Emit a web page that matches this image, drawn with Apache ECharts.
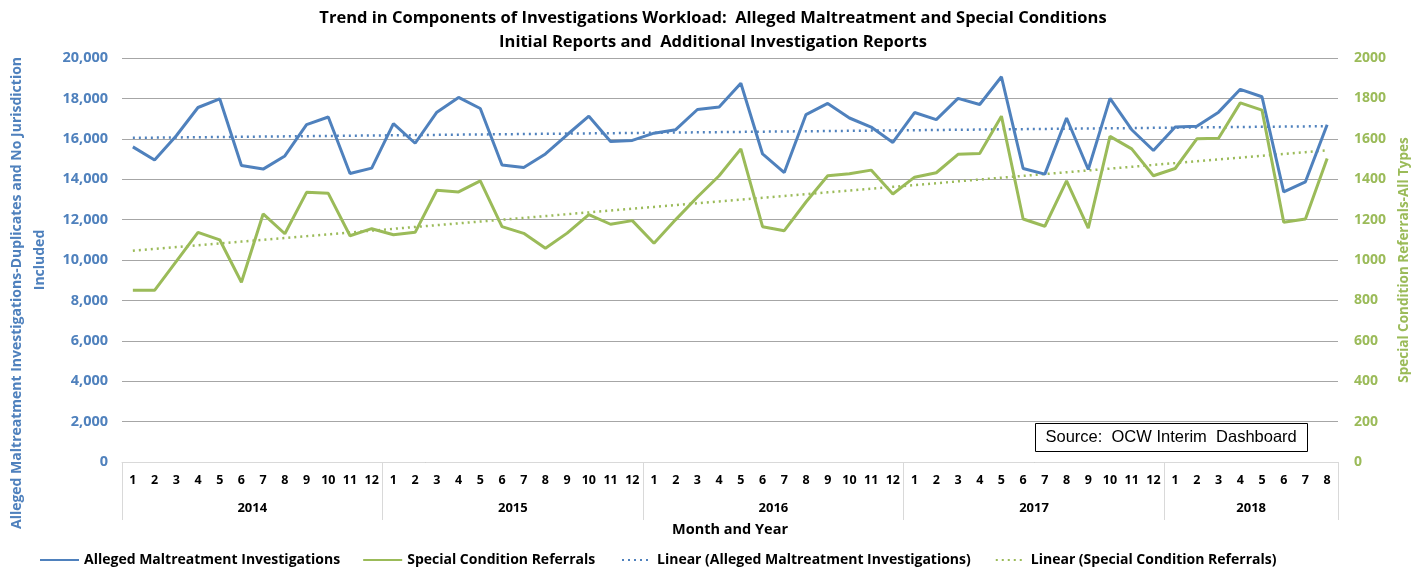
<!DOCTYPE html>
<html>
<head>
<meta charset="utf-8">
<script src="https://cdn.jsdelivr.net/npm/echarts@6/dist/echarts.min.js"></script>
<style>
  html, body { margin: 0; padding: 0; background: #fff; }
  #chart { width: 1426px; height: 573px; }
</style>
</head>
<body>
<div id="chart"></div>
<script>
  // months 2014-01 .. 2018-08
  var years = ['2014', '2015', '2016', '2017', '2018'];
  var monthsPerYear = [12, 12, 12, 12, 8];

  var allegedMaltreatment = [
    15600, 14950, 16150, 17550, 17980, 14680, 14500, 15150, 16700, 17080, 14280, 14550,
    16750, 15780, 17320, 18050, 17500, 14700, 14580, 15250, 16200, 17120, 15870, 15920,
    16280, 16450, 17450, 17570, 18750, 15250, 14330, 17200, 17750, 17030, 16580, 15820,
    17300, 16950, 18000, 17700, 19070, 14530, 14250, 17030, 14480, 18000, 16450, 15420,
    16580, 16620, 17320, 18450, 18080, 13370, 13870, 16700
  ];
  var specialCondition = [
    850, 850, 993, 1137, 1100, 890, 1228, 1130, 1335, 1330, 1120, 1155,
    1125, 1137, 1345, 1337, 1392, 1165, 1132, 1058, 1133, 1225, 1177, 1195,
    1083, 1200, 1312, 1417, 1550, 1165, 1145, 1287, 1417, 1427, 1445, 1327,
    1410, 1432, 1523, 1527, 1712, 1203, 1167, 1392, 1158, 1612, 1550, 1417,
    1453, 1600, 1603, 1778, 1742, 1187, 1203, 1503
  ];

  var blue = '#4f81bd', green = '#9bbb59';
  var font = '"Open Sans", sans-serif';

  var monthLabels = [];
  var yearStarts = [0], yearMids = [];
  years.forEach(function (y, i) {
    for (var m = 1; m <= monthsPerYear[i]; m++) monthLabels.push(String(m));
    var s = yearStarts[i];
    yearMids.push(s + monthsPerYear[i] / 2);
    yearStarts.push(s + monthsPerYear[i]);
  });

  // least squares trend line, like Excel "Linear" trendline
  function linearTrend(arr) {
    var n = arr.length, sx = 0, sy = 0, sxy = 0, sxx = 0;
    for (var i = 0; i < n; i++) {
      var x = i + 1;
      sx += x; sy += arr[i]; sxy += x * arr[i]; sxx += x * x;
    }
    var b = (n * sxy - sx * sy) / (n * sxx - sx * sx);
    var a = (sy - b * sx) / n;
    return arr.map(function (v, i) { return +(a + b * (i + 1)).toFixed(1); });
  }

  var legendText = { fontFamily: font, fontSize: 14, fontWeight: 'bold', color: '#000' };
  var leftName = { fontFamily: font, fontSize: 14, fontWeight: 'bold', color: blue, lineHeight: 23 };

  var chart = echarts.init(document.getElementById('chart'));
  chart.setOption({
    animation: false,
    textStyle: { fontFamily: font },
    title: {
      text: 'Trend in Components of Investigations Workload:  Alleged Maltreatment and Special Conditions\nInitial Reports and  Additional Investigation Reports',
      left: 'center',
      top: 1,
      padding: [5, 31, 5, 5],
      textStyle: { fontFamily: font, fontSize: 16.5, fontWeight: 'bold', color: '#000', lineHeight: 24 }
    },
    grid: { left: 122, right: 88, top: 58, bottom: 111, outerBoundsMode: 'none' },
    legend: [{
      data: ['Alleged Maltreatment Investigations', 'Special Condition Referrals'],
      left: 34, top: 548,
      itemWidth: 39, itemHeight: 12, itemGap: 22,
      itemStyle: { opacity: 0 },
      textStyle: legendText
    }, {
      data: ['Linear (Alleged Maltreatment Investigations)', 'Linear (Special Condition Referrals)'],
      left: 616, top: 548,
      itemWidth: 30, itemHeight: 12, itemGap: 24,
      itemStyle: { opacity: 0 },
      textStyle: legendText
    }],
    xAxis: [{
      type: 'category',
      data: monthLabels,
      boundaryGap: true,
      axisLine: { lineStyle: { color: '#d9d9d9', width: 1 } },
      axisTick: { show: false },
      axisLabel: { interval: 0, margin: 12, fontFamily: font, fontSize: 12.5, fontWeight: 'bold', color: '#000' }
    }, {
      type: 'value',
      position: 'bottom',
      min: 0, max: monthLabels.length,
      axisLine: { show: false },
      splitLine: { show: false },
      axisTick: {
        show: true, length: 58, customValues: yearStarts,
        lineStyle: { color: '#d9d9d9', width: 1 }
      },
      axisLabel: {
        customValues: yearMids, margin: 40,
        formatter: function (v) { return years[yearMids.indexOf(v)] || ''; },
        fontFamily: font, fontSize: 13, fontWeight: 'bold', color: '#000'
      },
      name: 'Month and Year',
      nameLocation: 'middle',
      nameGap: 60,
      nameTextStyle: { fontFamily: font, fontSize: 14.5, fontWeight: 'bold', color: '#000' }
    }],
    yAxis: [{
      type: 'value',
      min: 0, max: 20000, interval: 2000,
      axisLine: { show: false },
      axisTick: { show: false },
      splitLine: { lineStyle: { color: '#a6a6a6', width: 1 } },
      axisLabel: {
        margin: 14,
        formatter: function (v) { return v.toLocaleString('en-US'); },
        fontFamily: font, fontSize: 14.5, fontWeight: 'bold', color: blue
      },
      name: '{a|Alleged Maltreatment Investigations-Duplicates and No Jurisdiction}\n{b|Included}',
      nameLocation: 'middle',
      nameRotate: 90,
      nameGap: 69,
      nameTextStyle: Object.assign({}, leftName, {
        rich: {
          a: Object.assign({}, leftName, { padding: [0, 66, 0, 0] }),
          b: leftName
        }
      })
    }, {
      type: 'value',
      min: 0, max: 2000, interval: 200,
      axisLine: { show: false },
      axisTick: { show: false },
      splitLine: { show: false },
      axisLabel: {
        margin: 16,
        formatter: function (v) { return String(v); },
        fontFamily: font, fontSize: 14, fontWeight: 'bold', color: green
      },
      name: 'Special Condition Referrals-All Types',
      nameLocation: 'middle',
      nameRotate: 90,
      nameGap: 58,
      nameTextStyle: { fontFamily: font, fontSize: 13.5, fontWeight: 'bold', color: green }
    }],
    series: [{
      name: 'Alleged Maltreatment Investigations',
      type: 'line', yAxisIndex: 0, symbol: 'none',
      lineStyle: { color: blue, width: 3 }, itemStyle: { color: blue },
      data: allegedMaltreatment, z: 3
    }, {
      name: 'Special Condition Referrals',
      type: 'line', yAxisIndex: 1, symbol: 'none',
      lineStyle: { color: green, width: 3 }, itemStyle: { color: green },
      data: specialCondition, z: 3
    }, {
      name: 'Linear (Alleged Maltreatment Investigations)',
      type: 'line', yAxisIndex: 0, symbol: 'none',
      lineStyle: { color: blue, width: 2.5, type: [2, 4] }, itemStyle: { color: blue },
      data: linearTrend(allegedMaltreatment), z: 2
    }, {
      name: 'Linear (Special Condition Referrals)',
      type: 'line', yAxisIndex: 1, symbol: 'none',
      lineStyle: { color: green, width: 2.5, type: [2, 4] }, itemStyle: { color: green },
      data: linearTrend(specialCondition), z: 2
    }],
    graphic: [{
      type: 'group',
      left: 1035, top: 423,
      children: [{
        type: 'rect',
        shape: { x: 0, y: 0, width: 272, height: 28 },
        style: { fill: '#fff', stroke: '#000', lineWidth: 1 }
      }, {
        type: 'text',
        x: 10, y: 14,
        style: {
          text: 'Source:  OCW Interim  Dashboard',
          font: '16.5px "Liberation Sans", Arial, sans-serif',
          fill: '#000', verticalAlign: 'middle'
        }
      }]
    }]
  });
</script>
</body>
</html>
